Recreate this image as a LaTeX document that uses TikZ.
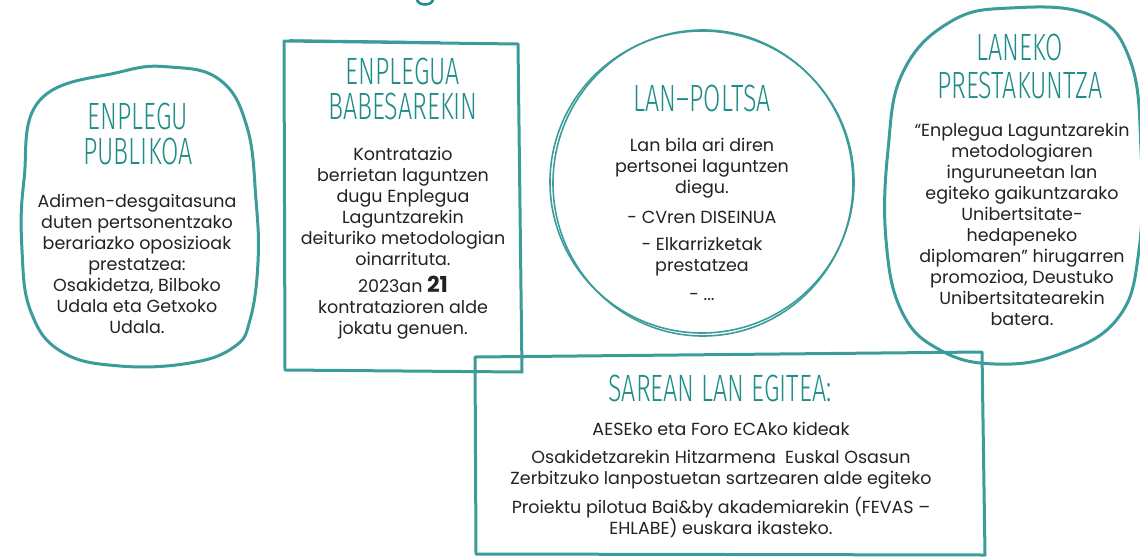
\documentclass[tikz,border=0pt]{standalone}
\usepackage{fontspec}
\setmainfont{Poppins}
\newfontfamily\titlefont[FakeStretch=0.66]{Fira Sans Light}
\definecolor{teal1}{HTML}{3C9C99}
\definecolor{titlec}{HTML}{1E8C88}
\definecolor{txt}{HTML}{222222}
\tikzset{
  body/.style={align=center, font=\fontsize{17.5}{21}\selectfont, text=txt, inner sep=0pt},
  ttl/.style={align=center, font=\titlefont\fontsize{38}{35}\selectfont, text=titlec, inner sep=0pt},
  outline/.style={draw=teal1, line width=3pt, line cap=round, line join=round},
  thinline/.style={draw=teal1, line width=1.6pt, line cap=round, line join=round},
}
\begin{document}
\begin{tikzpicture}[x=1pt,y=-1pt]
\useasboundingbox (0,0) rectangle (1140,557);
% cut-off letter at the top
\draw[titlec, line width=2.5pt, line cap=round] (417,0) .. controls (419,6) and (431,6) .. (433,0);

% shape 1 : blob
\draw[outline] plot[smooth cycle, tension=0.7] coordinates {(40,100) (120,72) (170,67) (220,80) (247,127) (256,200) (258,262) (250,320) (234,347) (190,363) (120,366) (62,352) (31,312) (22,250) (24,180)};
\node[ttl] (t1) at (138,134) {ENPLEGU\\PUBLIKOA};
\node[body] (b1) at (137,264) {Adimen-desgaitasuna\\duten pertsonentzako\\berariazko oposizioak\\prestatzea:\\Osakidetza, Bilboko\\Udala eta Getxoko\\Udala.};

% shape 2 : rectangle
\draw[outline] (284,41) -- (518,44) -- (522,372) -- (285,370) -- cycle;
\draw[thinline] (290,40) -- (440,42);
\node[ttl] (t2) at (403,89) {ENPLEGUA\\BABESAREKIN};
\node[body] (b2) at (403,243) {Kontratazio\\berrietan laguntzen\\dugu Enplegua\\Laguntzarekin\\deituriko metodologian\\oinarrituta.\\[6pt]2023an {\fontsize{22}{21}\selectfont\bfseries 21}\\kontratazioren alde\\jokatu genuen.};

% shape 3 : circle
\draw[thinline] (702,182) ellipse [x radius=152, y radius=151];
\draw[thinline] (703,183) ellipse [x radius=150, y radius=153];
\node[ttl] (t3) at (702,98) {LAN–POLTSA};
\node[body] (b3) at (702,219) {Lan bila ari diren\\pertsonei laguntzen\\diegu.\\[9pt]- CVren DISEINUA\\[6pt]- Elkarrizketak\\prestatzea\\[8pt]- ...};

% shape 4 : blob
\draw[outline] plot[smooth cycle, tension=0.7] coordinates {(950,22) (1010,8) (1090,15) (1130,60) (1141,150) (1139,250) (1118,318) (1060,354) (995,364) (940,350) (902,312) (886,240) (888,150) (903,72)};
\node[ttl] (t4) at (1020,66) {LANEKO\\[3pt]PRESTAKUNTZA};
\node[body] (b4) at (1022,224) {“Enplegua Laguntzarekin\\metodologiaren\\inguruneetan lan\\egiteko gaikuntzarako\\Unibertsitate-\\hedapeneko\\diplomaren” hirugarren\\promozioa, Deustuko\\Unibertsitatearekin\\batera.};

% shape 5 : rectangle
\draw[outline] (475,357) -- (982,352) -- (985,555) -- (476,554) -- cycle;
\node[ttl] (t5) at (720,388) {SAREAN LAN EGITEA:};
\node[body] (b5) at (721,480) {AESEko eta Foro ECAko kideak\\[7pt]Osakidetzarekin Hitzarmena\ \ Euskal Osasun\\Zerbitzuko lanpostuetan sartzearen alde egiteko\\[7pt]Proiektu pilotua Bai\&by akademiarekin (FEVAS –\\EHLABE) euskara ikasteko.};
\end{tikzpicture}
\end{document}
